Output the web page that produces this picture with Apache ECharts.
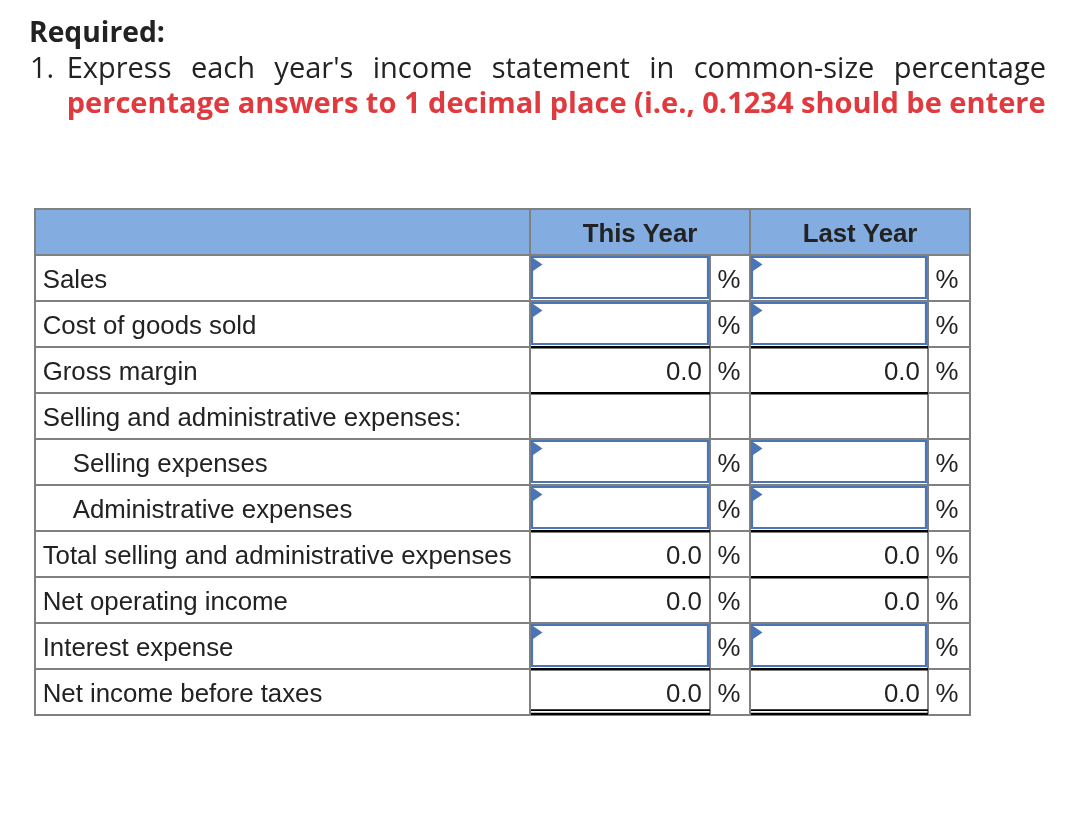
<!DOCTYPE html>
<html>
<head>
<meta charset="utf-8">
<script src="https://cdn.jsdelivr.net/npm/echarts@6/dist/echarts.min.js"></script>
<style>
html, body { margin: 0; padding: 0; background: #ffffff; }
#chart { width: 1092px; height: 830px; }
</style>
</head>
<body>
<div id="chart"></div>
<script>
// ---------- content ----------
const headingText = 'Required:';
const instructionNumber = '1.';
const instructionText = "Express each year's income statement in common-size percentage";
const noteText = 'percentage answers to 1 decimal place (i.e., 0.1234 should be entere';

const columnHeaders = ['This Year', 'Last Year'];
const rowLabels = [
  'Sales',
  'Cost of goods sold',
  'Gross margin',
  'Selling and administrative expenses:',
  'Selling expenses',
  'Administrative expenses',
  'Total selling and administrative expenses',
  'Net operating income',
  'Interest expense',
  'Net income before taxes'
];
const rowIndent = [0, 0, 0, 0, 1, 1, 0, 0, 0, 0];
const cellKind = ['input', 'input', 'calc', 'blank', 'input', 'input', 'calc', 'calc', 'input', 'calc'];
const thisYearValues = [null, null, 0.0, null, null, null, 0.0, 0.0, null, 0.0];
const lastYearValues = [null, null, 0.0, null, null, null, 0.0, 0.0, null, 0.0];
const percentSigns = ['%', '%', '%', '', '%', '%', '%', '%', '%', '%'];
const rowRule = ['none', 'single', 'single', 'none', 'none', 'single', 'single', 'none', 'single', 'double'];

// ---------- layout / style ----------
const COL_EDGES = [0, 495, 675, 715, 893, 935];   // value-axis units
const GRID_GRAY = '#808080';
const HEADER_BLUE = '#83ace0';
const INPUT_BLUE = '#4a76b8';
const TEXT_COLOR = '#222222';
const NOTE_RED = '#e03a3e';
const TABLE_FONT = '25.8px "Liberation Sans", Arial, Helvetica, sans-serif';
const TITLE_FAMILY = '"Open Sans", sans-serif';

const measureCtx = document.createElement('canvas').getContext('2d');
function textWidth(t, font) { measureCtx.font = font; return measureCtx.measureText(t).width; }
function fitSize(t, weight, family, target) {
  return 100 * target / textWidth(t, weight + ' 100px ' + family);
}

function txt(t, x, y, font, fill, align) {
  return {
    type: 'text', x: x, y: y, silent: true,
    style: { text: t, font: font, fill: fill, textAlign: align, align: align,
             textVerticalAlign: 'middle', verticalAlign: 'middle' }
  };
}

// title lines
const headingSize = fitSize(headingText, 'bold', TITLE_FAMILY, 136);
const noteSize = fitSize(noteText, 'bold', TITLE_FAMILY, 979);
const instrSize = 29;
const headingFont = 'bold ' + headingSize.toFixed(2) + 'px ' + TITLE_FAMILY;
const noteFont = 'bold ' + noteSize.toFixed(2) + 'px ' + TITLE_FAMILY;
const instrFont = instrSize + 'px ' + TITLE_FAMILY;

const graphics = [];
graphics.push(txt(headingText, 29, 33.5, headingFont, TEXT_COLOR, 'left'));
graphics.push(txt(instructionNumber, 30, 70, instrFont, TEXT_COLOR, 'left'));
(function () {
  const words = instructionText.split(' ');
  const ws = words.map(w => textWidth(w, instrFont));
  const startX = 66.7, endX = 1046;
  const total = ws.reduce((a, b) => a + b, 0);
  const gap = (endX - startX - total) / (words.length - 1);
  let x = startX;
  words.forEach((w, i) => {
    graphics.push(txt(w, x, 70, instrFont, TEXT_COLOR, 'left'));
    x += ws[i] + gap;
  });
})();
graphics.push(txt(noteText, 66.7, 104.5, noteFont, NOTE_RED, 'left'));

// ---------- table via custom series ----------
const yCategories = ['header'].concat(rowLabels);
const rowData = yCategories.map((_, i) => [0, i]);

function renderRow(params, api) {
  const r = api.value(1);
  const cy = api.coord([0, r])[1];
  const h = api.size([0, 1])[1];
  const top = cy - h / 2, bottom = cy + h / 2;
  const e = COL_EDGES.map(v => api.coord([v, r])[0]);
  const kids = [];
  const cell = (x0, x1, fill) => kids.push({
    type: 'rect', z2: 1,
    shape: { x: x0, y: top, width: x1 - x0, height: h },
    style: { fill: fill, stroke: GRID_GRAY, lineWidth: 2 }
  });
  const text = (t, x, align, bold) => kids.push({
    type: 'text', z2: 30,
    style: { text: t, x: x, y: cy + 2.8, font: (bold ? 'bold ' : '') + TABLE_FONT, fill: TEXT_COLOR,
             textAlign: align, align: align, textVerticalAlign: 'middle', verticalAlign: 'middle' }
  });
  const line = (x0, x1, y, w) => kids.push({
    type: 'line', z2: 10,
    shape: { x1: x0, y1: y, x2: x1, y2: y },
    style: { stroke: '#000000', lineWidth: w }
  });

  if (r === 0) {
    cell(e[0], e[1], HEADER_BLUE);
    cell(e[1], e[3], HEADER_BLUE);
    cell(e[3], e[5], HEADER_BLUE);
    text(columnHeaders[0], (e[1] + e[3]) / 2, 'center', true);
    text(columnHeaders[1], (e[3] + e[5]) / 2, 'center', true);
  } else {
    const i = r - 1;
    for (let k = 0; k < 5; k++) cell(e[k], e[k + 1], '#ffffff');
    text(rowLabels[i], e[0] + 7.7 + rowIndent[i] * 30, 'left', false);
    [[thisYearValues, 1], [lastYearValues, 3]].forEach(function (pair) {
      const vals = pair[0], k = pair[1];
      const x0 = e[k], x1 = e[k + 1];
      if (cellKind[i] === 'input') {
        kids.push({
          type: 'rect', z2: 5,
          shape: { x: x0 + 2, y: top + 2, width: x1 - x0 - 4, height: h - 5 },
          style: { fill: 'none', stroke: INPUT_BLUE, lineWidth: 2.2 }
        });
        kids.push({
          type: 'polygon', z2: 6,
          shape: { points: [[x0 + 3, top + 3], [x0 + 12.5, top + 9.5], [x0 + 3, top + 16]] },
          style: { fill: INPUT_BLUE }
        });
      } else if (cellKind[i] === 'calc') {
        text(vals[i].toFixed(1), x1 - 8.2, 'right', false);
      }
      if (percentSigns[i]) text(percentSigns[i], e[k + 1] + 7.5, 'left', false);
      if (rowRule[i] === 'single') {
        line(x0 + 1, x1, bottom + 0.3, 2.4);
      } else if (rowRule[i] === 'double') {
        line(x0 + 1, x1, bottom - 4.8, 1.7);
        line(x0 + 1, x1, bottom - 1.2, 2.2);
      }
    });
  }
  return { type: 'group', children: kids };
}

const chart = echarts.init(document.getElementById('chart'), null, { renderer: 'canvas' });
chart.setOption({
  backgroundColor: '#ffffff',
  animation: false,
  grid: { left: 35, top: 209, width: 935, height: 506 },
  xAxis: { type: 'value', min: 0, max: 935, show: false },
  yAxis: { type: 'category', data: yCategories, inverse: true, show: false },
  graphic: graphics,
  series: [{
    type: 'custom',
    silent: true,
    clip: false,
    renderItem: renderRow,
    encode: { x: 0, y: 1 },
    data: rowData
  }]
});
</script>
</body>
</html>
